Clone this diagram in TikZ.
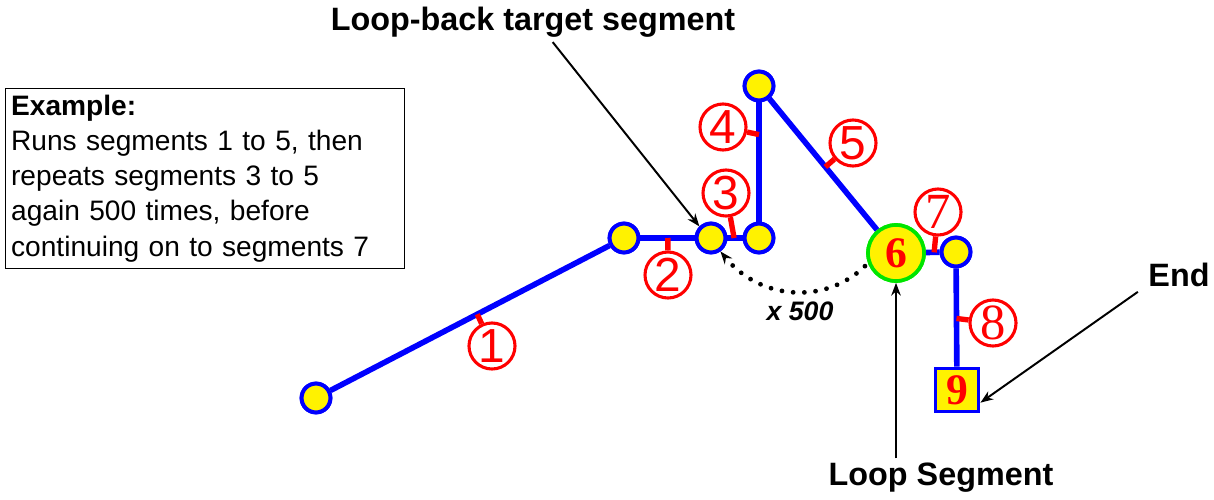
\documentclass[tikz,border=0pt]{standalone}
\usepackage{fontspec}
\setmainfont{Liberation Sans}
\newfontfamily\tagserif{Liberation Serif}
\usetikzlibrary{positioning, arrows.meta, calc}

\begin{document}
\begin{tikzpicture}[
    x=0.025cm, y=-0.025cm,
    >={Stealth[length=3.2mm, width=2.4mm]},
    joint/.style={circle, fill=yellow, draw=blue, line width=2.8pt,
                  minimum size=0.72cm, inner sep=0pt},
    loopjoint/.style={circle, fill=yellow, draw=green!90!black, line width=2.6pt,
                  minimum size=1.4cm, inner sep=0pt, text=red,
                  font=\tagserif\fontsize{31}{31}\selectfont\bfseries},
    endbox/.style={rectangle, fill=yellow, draw=blue, line width=2.6pt,
                  minimum size=1.08cm, inner sep=0pt, text=red,
                  font=\tagserif\fontsize{31}{31}\selectfont\bfseries},
    seg/.style={draw=blue, line width=4pt},
    tag/.style={circle, draw=red, line width=2.2pt, minimum size=1.15cm,
                inner sep=0pt, text=red, font=\fontsize{34}{34}\selectfont},
    tagS/.style={tag, font=\tagserif\fontsize{36}{36}\selectfont},
    tick/.style={draw=red, line width=3.8pt},
    callout/.style={->, black, line width=1.4pt},
    loopback/.style={->, black, line width=3.4pt, line cap=round,
                     dash pattern=on 0pt off 8pt, shorten <=3pt},
    lbl/.style={font=\fontsize{23}{26}\selectfont\bfseries},
]
\useasboundingbox (0,0) rectangle (1214,499);

% Joints
\node[joint] (p1) at (316,398) {};
\node[joint] (p2) at (624,238) {};
\node[joint] (p3) at (711,238) {};
\node[joint] (p4) at (759,238) {};
\node[joint] (p5) at (759,86) {};
\node[loopjoint] (p6) at (896,253) {6};
\node[joint] (p7) at (956,252) {};
\node[endbox] (p9) at (957,390) {9};

% Segments
\path[seg] (p1) -- (p2) coordinate[pos=0.526] (t1);
\path[seg] (p2) -- (p3) coordinate[pos=0.506] (t2);
\path[seg] (p3) -- (p4) coordinate[pos=0.44] (t3);
\path[seg] (p4) -- (p5) coordinate[pos=0.73] (t4);
\path[seg] (p5) -- (p6) coordinate[pos=0.52] (t5);
\path[seg] (p6) -- (p7) coordinate[pos=0.60] (t7);
\path[seg] (p7) -- (p9) coordinate[pos=0.51] (t8);

% Segment tags
\node[tag] (tag1) at (492,346) {1};
\node[tag] (tag2) at (668,275) {2};
\node[tag] (tag3) at (726,193) {3};
\node[tag] (tag4) at (723,127) {4};
\node[tag] (tag5) at (853,143) {5};
\node[tagS] (tag7) at (938,212) {7};
\node[tagS] (tag8) at (993,323) {8};
\foreach \i in {1,2,3,4,5,7,8} {
  \draw[tick] (t\i) -- (tag\i);
}

% Redraw joints on top of segments
\node[joint] at (p1) {};
\node[joint] at (p2) {};
\node[joint] at (p3) {};
\node[joint] at (p4) {};
\node[joint] at (p5) {};
\node[loopjoint] at (p6) {6};
\node[joint] at (p7) {};
\node[endbox] at (p9) {9};

% Loop back
\draw[loopback] (p6.200) .. controls (825,305) and (760,300) .. (p3.-55);
\node[font=\fontsize{19}{19}\selectfont\bfseries\itshape] (times) at (800,311) {x 500};

% Callouts
\node[lbl] (target) at (533,22) {Loop-back target segment};
\node[lbl] (loopseg) at (941,478) {Loop Segment};
\node[lbl] (endlbl) at (1179,275) {End};
\draw[callout] ([xshift=14]target.south) -- (p3.north west);
\draw[callout] (loopseg.north -| p6) -- (p6.south);
\draw[callout] ([xshift=-4]endlbl.south west) -- ([yshift=-9]p9.east);

% Example box
\node[draw=black, line width=0.7pt, anchor=north west, minimum width=9.93cm,
      minimum height=4.5cm, text width=9.7cm, inner xsep=4pt, align=left,
      font=\fontsize{20}{25}\selectfont] (example) at (5,88)
  {\textbf{Example:}\\Runs segments 1 to 5, then\\repeats segments 3 to 5\\again 500 times, before\\continuing on to segments 7};

\end{tikzpicture}
\end{document}
